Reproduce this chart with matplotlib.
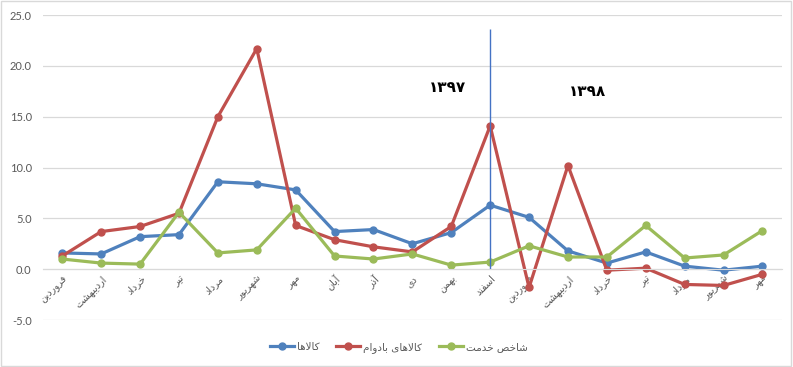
import matplotlib
matplotlib.use("Agg")
import matplotlib.pyplot as plt
from matplotlib.patches import Rectangle

# Persian month labels (1397 then 1398)
months = ["فروردین", "اردیبهشت", "خرداد", "تیر", "مرداد", "شهریور", "مهر",
          "آبان", "آذر", "دی", "بهمن", "اسفند",
          "فروردین", "اردیبهشت", "خرداد", "تیر", "مرداد", "شهریور", "مهر"]

goods = [1.6, 1.5, 3.2, 3.4, 8.6, 8.4, 7.8, 3.7, 3.9, 2.5, 3.6, 6.3,
         5.1, 1.8, 0.6, 1.7, 0.3, -0.1, 0.3]
durable = [1.3, 3.7, 4.2, 5.5, 15.0, 21.7, 4.3, 2.9, 2.2, 1.7, 4.2, 14.1,
           -1.8, 10.2, -0.1, 0.1, -1.5, -1.6, -0.5]
services = [1.0, 0.6, 0.5, 5.6, 1.6, 1.9, 6.0, 1.3, 1.0, 1.5, 0.4, 0.7,
            2.3, 1.2, 1.2, 4.3, 1.1, 1.4, 3.8]

series_names = ["کالاها", "کالاهای بادوام", "شاخص خدمت"]
years = ["۱۳۹۷", "۱۳۹۸"]
split_index = 11

# minimal arabic shaping: letter -> (isolated, final, initial, medial)
FORMS = {
    "ا": ("\uFE8D", "\uFE8E", None, None),
    "آ": ("\uFE81", "\uFE82", None, None),
    "ب": ("\uFE8F", "\uFE90", "\uFE91", "\uFE92"),
    "ت": ("\uFE95", "\uFE96", "\uFE97", "\uFE98"),
    "خ": ("\uFEA5", "\uFEA6", "\uFEA7", "\uFEA8"),
    "د": ("\uFEA9", "\uFEAA", None, None),
    "ذ": ("\uFEAB", "\uFEAC", None, None),
    "ر": ("\uFEAD", "\uFEAE", None, None),
    "س": ("\uFEB1", "\uFEB2", "\uFEB3", "\uFEB4"),
    "ش": ("\uFEB5", "\uFEB6", "\uFEB7", "\uFEB8"),
    "ص": ("\uFEB9", "\uFEBA", "\uFEBB", "\uFEBC"),
    "ف": ("\uFED1", "\uFED2", "\uFED3", "\uFED4"),
    "ل": ("\uFEDD", "\uFEDE", "\uFEDF", "\uFEE0"),
    "م": ("\uFEE1", "\uFEE2", "\uFEE3", "\uFEE4"),
    "ن": ("\uFEE5", "\uFEE6", "\uFEE7", "\uFEE8"),
    "ه": ("\uFEE9", "\uFEEA", "\uFEEB", "\uFEEC"),
    "و": ("\uFEED", "\uFEEE", None, None),
    "ک": ("\uFB8E", "\uFB8F", "\uFB90", "\uFB91"),
    "ی": ("\uFBFC", "\uFBFD", "\uFBFE", "\uFBFF"),
}


def shape(word):
    chars = list(word)
    out = []
    i = 0
    while i < len(chars):
        c = chars[i]
        if c not in FORMS:
            out.append(c)
            i += 1
            continue
        prev = chars[i - 1] if i > 0 else None
        joins_prev = prev in FORMS and FORMS[prev][2] is not None
        # lam-alef ligature
        if c == "ل" and i + 1 < len(chars) and chars[i + 1] == "ا":
            out.append("\uFEFC" if joins_prev else "\uFEFB")
            i += 2
            continue
        nxt = chars[i + 1] if i + 1 < len(chars) else None
        joins_next = FORMS[c][2] is not None and nxt in FORMS
        iso, fin, ini, med = FORMS[c]
        if joins_prev and joins_next:
            out.append(med)
        elif joins_prev:
            out.append(fin)
        elif joins_next:
            out.append(ini)
        else:
            out.append(iso)
        i += 1
    return "".join(out)


def rtl(text):
    return " ".join(shape(w)[::-1] for w in text.split(" ")[::-1])


plt.rcParams["font.family"] = ["DejaVu Sans"]

fig = plt.figure(figsize=(7.93, 3.67), dpi=100)
ax = fig.add_axes([0.054, 0.128, 0.932, 0.831])

colors = ["#4F81BD", "#C0504D", "#9BBB59"]
x = list(range(len(months)))
for vals, name, col in zip([goods, durable, services], series_names, colors):
    ax.plot(x, vals, color=col, lw=2.3, marker="o", ms=5, label=rtl(name))

ax.vlines(split_index, 0, 23.6, color="#4472C4", lw=1)
ax.text(9.9, 17.9, years[0], fontsize=11, fontweight="bold", ha="center", va="center")
ax.text(13.5, 17.5, years[1], fontsize=11, fontweight="bold", ha="center", va="center")

ax.set_xlim(-0.5, 18.5)
ax.set_ylim(-5, 25)
ax.set_yticks([-5, 0, 5, 10, 15, 20, 25])
ax.set_yticklabels([f"{v:.1f}" for v in [-5, 0, 5, 10, 15, 20, 25]],
                   fontsize=8, color="#595959", family=["Lato", "DejaVu Sans"])
ax.yaxis.grid(True, color="#D9D9D9", lw=0.9)
ax.set_axisbelow(True)
for s in ["top", "right", "left"]:
    ax.spines[s].set_visible(False)
ax.spines["bottom"].set_position(("data", 0))
ax.spines["bottom"].set_color("#D9D9D9")
ax.tick_params(axis="y", length=0, pad=8)
ax.tick_params(axis="x", length=0, pad=3)
ax.set_xticks(x)
ax.set_xticklabels([rtl(m) for m in months], rotation=45, ha="right",
                   rotation_mode="anchor", fontsize=7, color="#595959")

leg = ax.legend(loc="center", ncol=3, frameon=False, fontsize=7.5,
                handlelength=2.3, handletextpad=0.3, columnspacing=1.6)
for t in leg.get_texts():
    t.set_color("#595959")
leg.set_bbox_to_anchor((0.503, 0.054), transform=fig.transFigure)

fig.patches.append(Rectangle((0.001, 0.002), 0.997, 0.996, transform=fig.transFigure,
                             fill=False, edgecolor="#D9D9D9", lw=1))

fig.savefig("out.png", dpi=100)
